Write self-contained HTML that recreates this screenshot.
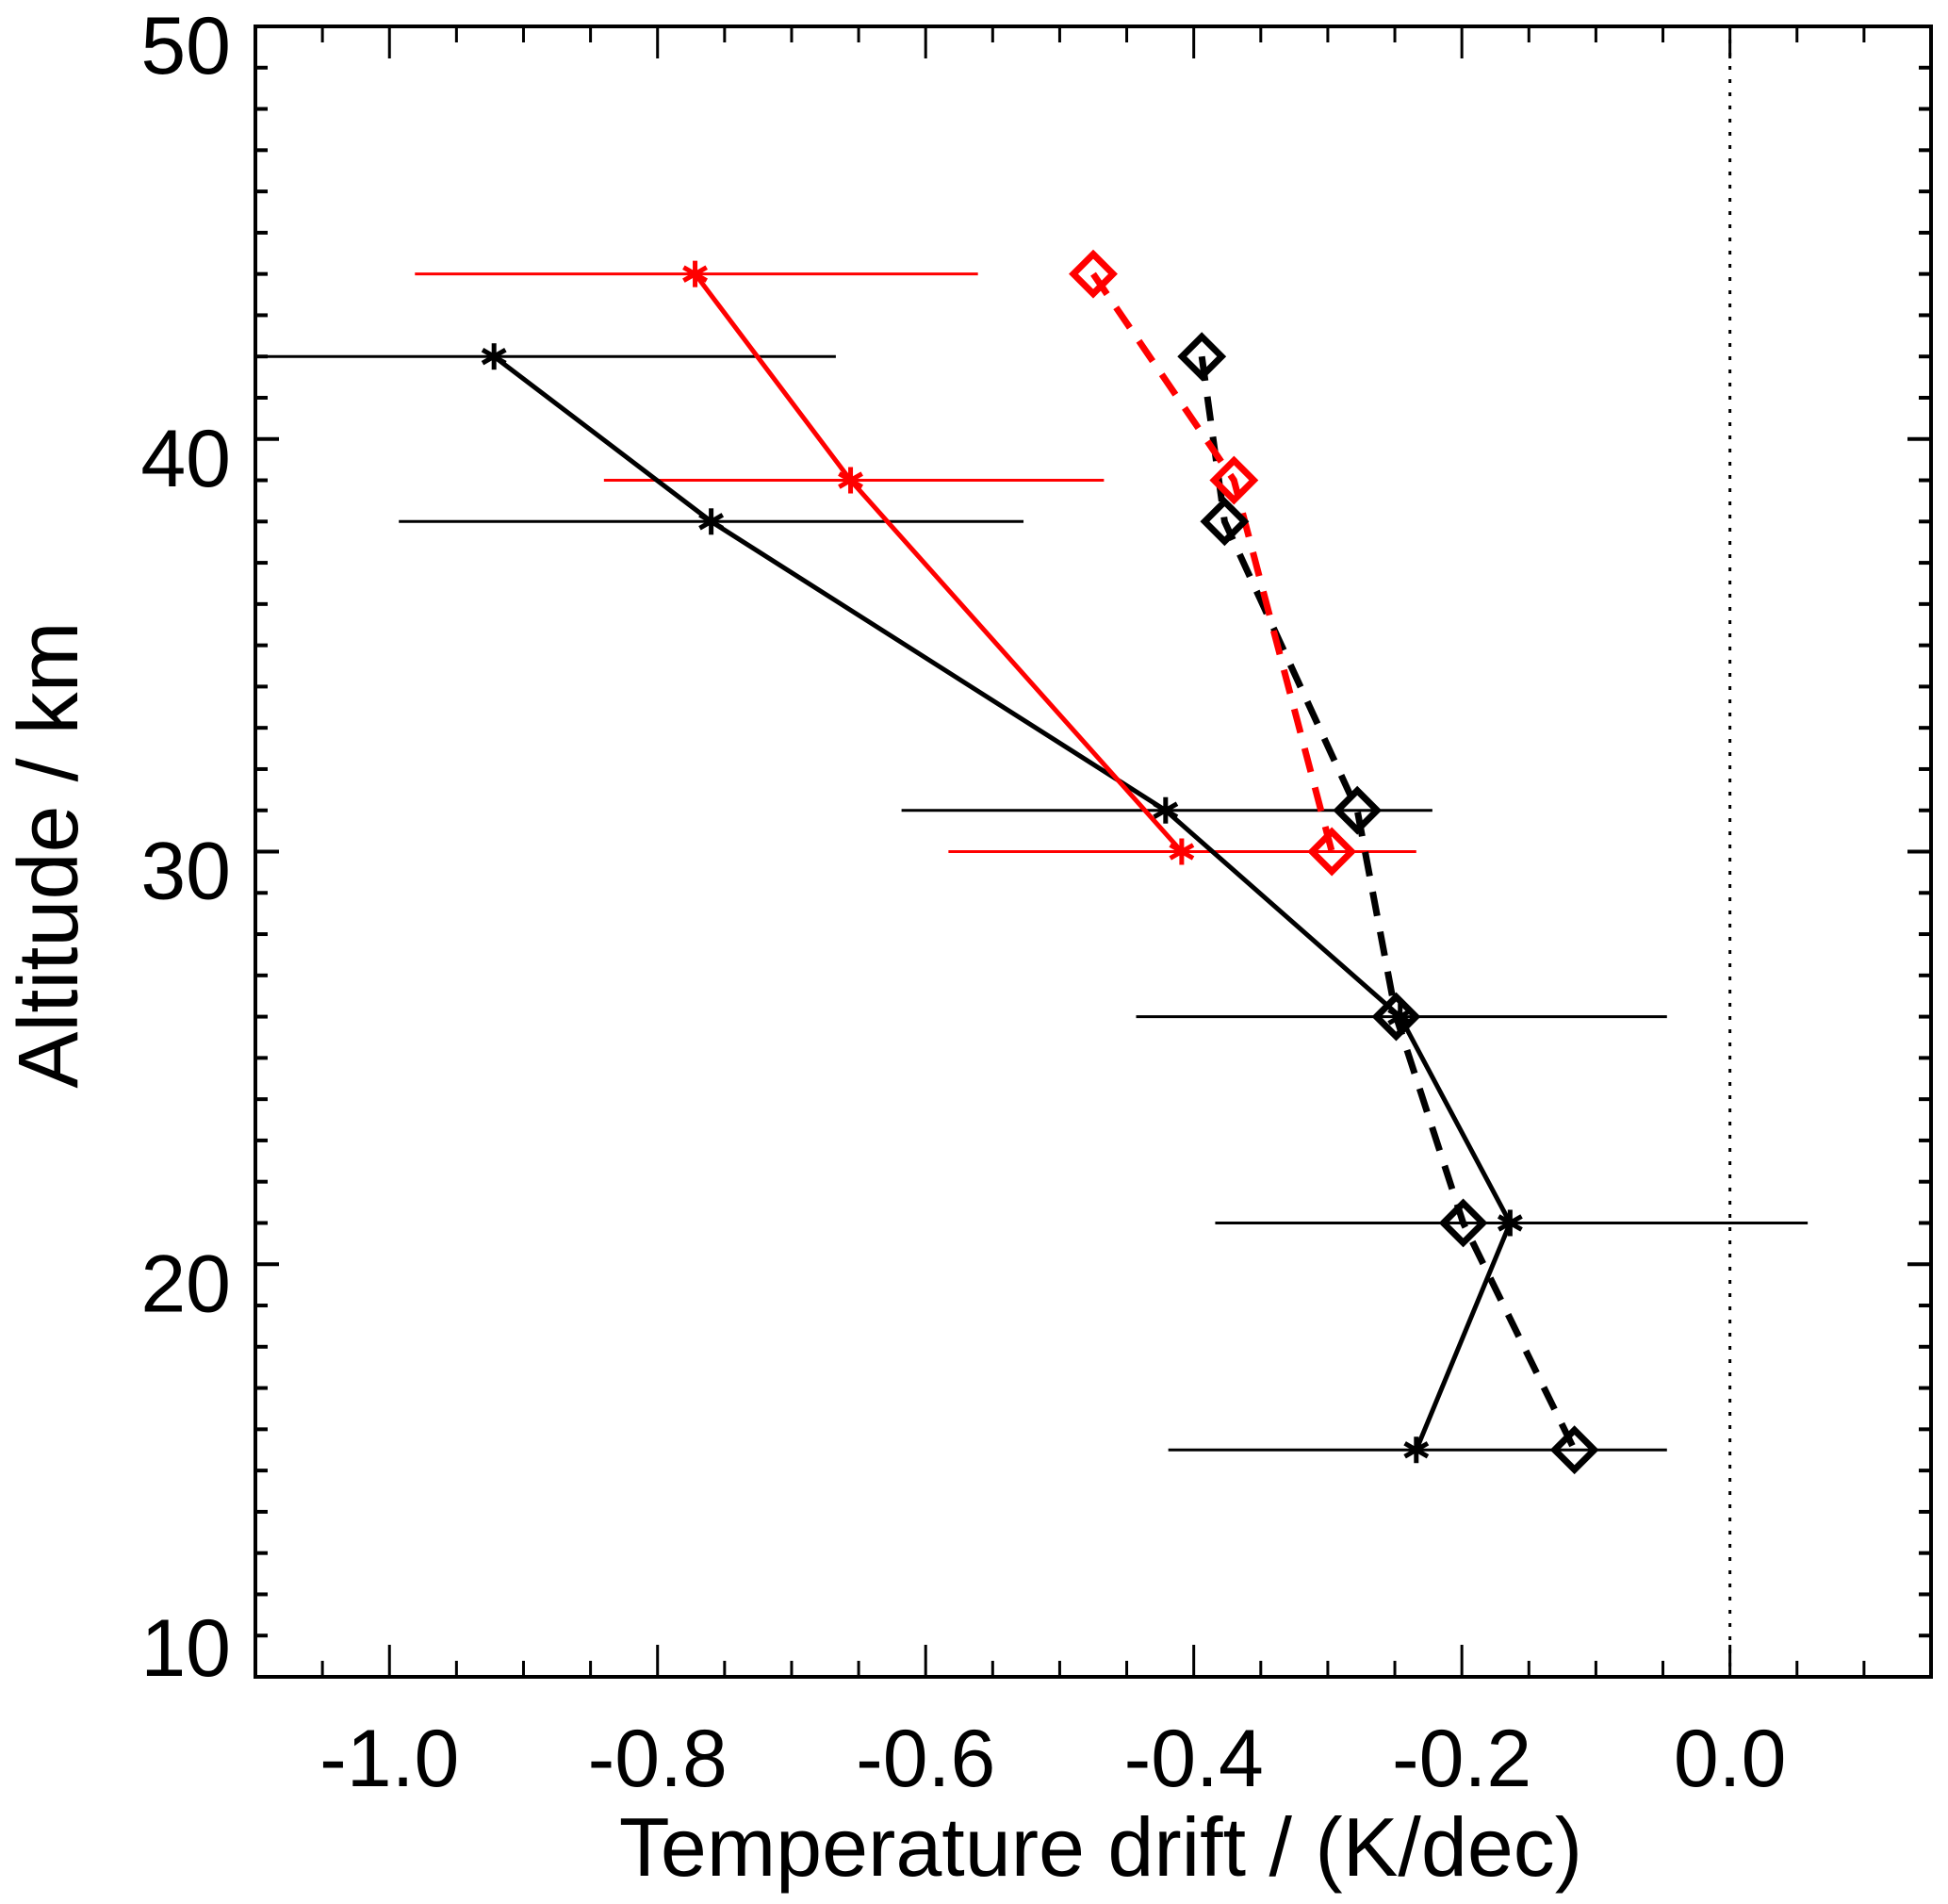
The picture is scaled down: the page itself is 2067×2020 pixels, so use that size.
<!DOCTYPE html>
<html><head><meta charset="utf-8"><style>
html,body{margin:0;padding:0;background:#fff;}
svg{display:block;}
text{font-family:"Liberation Sans",Arial,sans-serif;fill:#000;}
</style></head><body>
<svg id="chart" width="2067" height="2020" viewBox="0 0 2067 2020" xmlns="http://www.w3.org/2000/svg">
<g id="grid"></g>
<g id="marks"></g>
<text x="1168" y="1990" font-size="88" text-anchor="middle">Temperature drift / (K/dec)</text>
<text transform="translate(82,907) rotate(-90)" font-size="90" text-anchor="middle">Altitude / km</text>
</svg>
<script>
// data
const blackAlt = [42, 38, 31, 26, 21, 15.5];
const blackStar = [-0.922, -0.760, -0.421, -0.246, -0.164, -0.234];
const blackErrLo = [-1.1, -0.993, -0.618, -0.443, -0.384, -0.419];
const blackErrHi = [-0.667, -0.527, -0.222, -0.047, 0.058, -0.047];
const blackDiamond = [-0.394, -0.377, -0.278, -0.249, -0.199, -0.116];
const redAlt = [44, 39, 30];
const redStar = [-0.772, -0.656, -0.409];
const redErrLo = [-0.981, -0.840, -0.583];
const redErrHi = [-0.561, -0.467, -0.234];
const redDiamond = [-0.475, -0.370, -0.297];
const xTickLabels = ["-1.0", "-0.8", "-0.6", "-0.4", "-0.2", "0.0"];
const xTickValues = [-1.0, -0.8, -0.6, -0.4, -0.2, 0.0];
const yTickLabels = ["10", "20", "30", "40", "50"];
const yTickValues = [10, 20, 30, 40, 50];

const L = 271, R = 2049, T = 28, B = 1779;
const xMin = -1.1, xMax = 0.15, yMin = 10, yMax = 50;
function sx(v){ return L + (v - xMin) / (xMax - xMin) * (R - L); }
function sy(v){ return B - (v - yMin) / (yMax - yMin) * (B - T); }
const NS = "http://www.w3.org/2000/svg";
function mk(tag, attrs, parent){
  const e = document.createElementNS(NS, tag);
  for (const k in attrs) e.setAttribute(k, attrs[k]);
  parent.appendChild(e);
  return e;
}
const grid = document.getElementById('grid');
const marks = document.getElementById('marks');

const fr = mk('rect', {x:L, y:T, width:R-L, height:B-T, fill:'none', stroke:'#000', 'stroke-width':4}, grid);



for (let i = 0; i <= 25; i++){
  const v = xMin + i * 0.05;
  const major = Math.abs(Math.round(v*10) - v*10) < 1e-6 && Math.round(v*10) % 2 === 0;
  const len = major ? 34 : 17;
  const x = sx(v);
  const t1 = mk('line', {x1:x, x2:x, y1:B, y2:B-len, stroke:'#000', 'stroke-width':3}, grid);
  
  
  const t2 = mk('line', {x1:x, x2:x, y1:T, y2:T+len, stroke:'#000', 'stroke-width':3}, grid);
  
  
}
xTickValues.forEach((v, i) => {
  const t = mk('text', {x:sx(v), y:1895, 'font-size':86, 'text-anchor':'middle'}, grid);
  t.textContent = xTickLabels[i];
  
  
});
for (let v = yMin; v <= yMax; v++){
  const major = v % 10 === 0;
  const len = major ? 25 : 13;
  const y = sy(v);
  const t1 = mk('line', {x1:L, x2:L+len, y1:y, y2:y, stroke:'#000', 'stroke-width':4}, grid);
  
  
  const t2 = mk('line', {x1:R, x2:R-len, y1:y, y2:y, stroke:'#000', 'stroke-width':4}, grid);
  
  
}
yTickValues.forEach((v, i) => {
  const t = mk('text', {x:245, y:v === 10 ? 1778 : sy(v) + 50, 'font-size':86, 'text-anchor':'end'}, grid);
  t.textContent = yTickLabels[i];
  
  
});
const z = mk('line', {x1:sx(0), x2:sx(0), y1:T, y2:B, stroke:'#000', 'stroke-width':3, 'stroke-dasharray':'4 10'}, grid);



function errorbars(lo, hi, alt, color, name){
  alt.forEach((a, i) => {
    const e = mk('line', {x1:sx(Math.max(lo[i], xMin)), x2:sx(Math.min(hi[i], xMax)), y1:sy(a), y2:sy(a), stroke:color, 'stroke-width':3}, marks);
    
    
  });
}
function polyline(xs, alt, color, dashed, width, name){
  const pts = xs.map((v, i) => sx(v) + ',' + sy(alt[i])).join(' ');
  const p = mk('polyline', {points:pts, fill:'none', stroke:color, 'stroke-width':width, 'stroke-dasharray':dashed ? '26 17' : 'none'}, marks);
  
  
}
function stars(xs, alt, color, name){
  xs.forEach((v, i) => {
    const cx = sx(v), cy = sy(alt[i]), r = 14;
    const g = mk('g', {stroke:color, 'stroke-width':5}, marks);
    
    
    mk('line', {x1:cx, x2:cx, y1:cy-r, y2:cy+r}, g);
    mk('line', {x1:cx-r*0.87, x2:cx+r*0.87, y1:cy-r*0.5, y2:cy+r*0.5}, g);
    mk('line', {x1:cx-r*0.87, x2:cx+r*0.87, y1:cy+r*0.5, y2:cy-r*0.5}, g);
  });
}
function diamonds(xs, alt, color, name){
  xs.forEach((v, i) => {
    const cx = sx(v), cy = sy(alt[i]), r = 21;
    const d = mk('polygon', {points:`${cx},${cy-r} ${cx+r},${cy} ${cx},${cy+r} ${cx-r},${cy}`, fill:'none', stroke:color, 'stroke-width':7}, marks);
    
    
  });
}
errorbars(blackErrLo, blackErrHi, blackAlt, '#000', 'black-error-bar');
errorbars(redErrLo, redErrHi, redAlt, '#f00', 'red-error-bar');
polyline(blackStar, blackAlt, '#000', false, 5, 'black-star-line');
polyline(redStar, redAlt, '#f00', false, 5, 'red-star-line');
polyline(blackDiamond, blackAlt, '#000', true, 7, 'black-diamond-dashed-line');
polyline(redDiamond, redAlt, '#f00', true, 7, 'red-diamond-dashed-line');
stars(blackStar, blackAlt, '#000', 'black-star-marker');
stars(redStar, redAlt, '#f00', 'red-star-marker');
diamonds(blackDiamond, blackAlt, '#000', 'black-diamond-marker');
diamonds(redDiamond, redAlt, '#f00', 'red-diamond-marker');
</script>
</body></html>
